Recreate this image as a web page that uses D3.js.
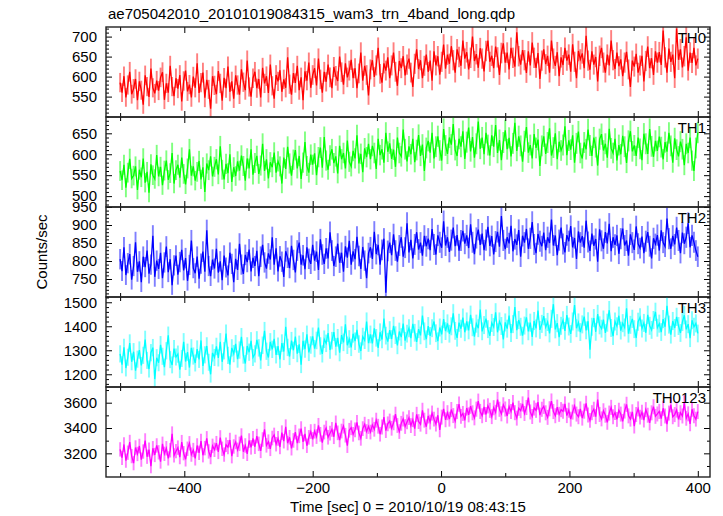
<!DOCTYPE html>
<html><head><meta charset="utf-8">
<script src="https://cdn.jsdelivr.net/npm/d3@7"></script>
<style>body{margin:0;background:#fff}svg{display:block}</style>
</head><body><svg id="c" width="723" height="516"></svg>
<script>
const title = "ae705042010_20101019084315_wam3_trn_4band_long.qdp";
const xLabel = "Time [sec] 0 = 2010/10/19 08:43:15";
const yLabel = "Counts/sec";
const binStart = -500, binWidth = 3;
const xDomain = [-522, 419];
const xMajorTicks = [-400, -200, 0, 200, 400];
const xMinorTicks = [-500, -300, -100, 100, 300];
const bands = ["TH0", "TH1", "TH2", "TH3", "TH0123"];
const colors = ["#ff0000", "#00ff00", "#0000ff", "#00ffff", "#ff00ff"];
const yDomains = [[499, 724], [474, 689], [700, 950], [1147, 1522], [3013, 3724]];
const yTicks = [[550, 600, 650, 700], [500, 550, 600, 650], [750, 800, 850, 900, 950], [1200, 1300, 1400, 1500], [3200, 3400, 3600]];
const yMinorStep = [10, 10, 10, 20, 100];

const th0 = [
585,560,601,548,579,612,556,570,594,541,
588,566,530,603,575,549,620,572,558,590,
565,598,611,542,583,560,627,575,551,596,
570,604,538,589,615,563,580,548,600,572,
633,559,585,610,547,592,568,520,601,578,
556,614,583,540,597,571,625,562,588,545,
603,579,555,618,586,566,640,574,550,596,
612,571,594,548,622,583,601,559,630,577,
545,604,588,616,562,593,572,648,581,555,
609,584,627,566,598,541,613,590,635,572,
604,621,578,645,593,560,612,587,630,598,
571,624,602,589,650,611,580,633,598,615,
642,596,621,571,608,660,590,627,604,553,
618,641,599,628,672,607,585,633,615,648,
596,628,660,612,577,639,621,651,603,630,
645,610,574,632,668,619,641,596,627,655,
612,640,590,663,628,651,605,637,680,620,
655,632,676,641,610,668,649,627,690,645,
661,618,647,700,639,656,622,671,645,613,
664,690,637,652,621,675,648,604,659,683,
635,660,618,672,647,625,711,651,630,666,
641,609,663,628,685,647,622,659,594,640,
668,631,652,610,690,645,627,661,601,648,
629,672,640,655,612,681,637,596,664,643,
658,621,702,640,617,663,630,649,588,652,
672,635,610,655,628,690,641,619,660,626,
643,601,635,662,618,574,640,625,657,610,
628,652,588,639,675,621,646,604,663,635,
661,629,715,648,610,670,637,655,596,720,
642,668,623,651,698,615,660,634,672,628,
645];

const th1 = [
560,538,575,520,556,589,542,549,571,515,
563,545,590,532,558,508,576,550,541,598,
547,570,526,561,585,539,555,603,530,562,
575,544,592,553,528,566,612,549,571,537,
558,584,540,569,510,578,562,595,547,570,
588,552,619,563,540,577,555,600,534,569,
548,583,561,597,572,537,590,566,612,551,
579,596,553,573,625,560,588,542,581,569,
604,556,583,571,530,592,565,618,578,549,
587,610,566,596,541,580,629,572,556,599,
575,602,550,593,616,568,641,585,563,597,
612,579,595,554,620,588,603,566,633,582,
571,608,590,645,578,601,557,614,593,625,
588,620,603,565,637,598,612,580,651,606,
626,589,611,570,640,603,595,659,612,583,
619,600,637,581,610,646,596,623,560,615,
632,604,651,590,618,643,609,585,660,621,
601,640,623,672,610,596,637,618,655,589,
629,664,607,641,592,625,678,613,640,600,
651,622,597,645,618,670,603,634,586,628,
657,612,639,595,626,675,608,643,620,582,
631,665,604,622,590,648,615,635,572,620,
643,601,628,662,597,616,650,588,630,609,
622,667,598,633,611,645,580,626,654,603,
590,628,612,659,621,596,640,617,573,636,
648,609,625,592,661,614,603,637,585,622,
600,644,618,579,632,655,607,621,596,640,
613,586,649,625,601,660,619,594,632,608,
642,617,588,629,606,651,620,580,638,611,
595,630,612,574,625,603,640,585,560,615,
652];

const th2 = [
805,772,838,761,794,819,748,786,852,770,
799,741,812,783,829,765,790,870,756,801,
778,823,752,796,840,769,805,733,788,815,
762,797,831,774,808,745,789,857,780,766,
812,751,793,826,770,885,786,758,804,779,
834,768,799,747,815,782,760,823,792,741,
806,775,848,790,764,817,797,832,771,809,
786,828,758,812,845,796,779,821,804,866,
790,835,771,813,798,756,827,809,780,842,
803,768,829,851,790,816,777,838,806,792,
845,801,826,775,860,818,792,835,807,880,
829,786,812,848,795,823,770,841,809,856,
790,827,805,867,814,778,839,801,752,822,
838,806,881,819,845,790,831,862,712,828,
851,816,874,829,798,843,866,812,837,905,
824,859,807,846,880,832,851,815,870,841,
862,830,889,846,818,871,852,837,910,843,
866,825,858,893,841,872,829,857,884,848,
871,836,902,852,819,864,887,845,876,830,
858,895,842,869,818,854,881,840,925,857,
833,866,849,898,827,861,845,886,812,870,
851,889,834,863,908,846,822,875,855,841,
879,830,866,850,915,843,871,816,858,893,
847,824,872,855,897,838,864,806,882,851,
869,837,912,853,828,876,842,861,798,888,
856,834,880,849,903,827,866,845,871,820,
862,890,843,857,815,874,851,831,896,848,
836,868,822,855,880,841,807,863,847,872,
829,885,851,840,918,862,834,870,846,893,
857,822,879,848,866,905,838,871,852,829,
812];

const th3 = [
1285,1240,1312,1226,1271,1330,1252,1294,1215,1263,
1301,1237,1279,1345,1258,1222,1290,1311,1180,1269,
1248,1323,1275,1230,1298,1362,1261,1239,1307,1272,
1284,1219,1266,1335,1253,1292,1228,1310,1276,1247,
1305,1262,1341,1235,1281,1318,1250,1200,1289,1270,
1316,1268,1335,1252,1298,1370,1279,1240,1310,1286,
1327,1263,1301,1356,1280,1245,1318,1292,1339,1270,
1285,1343,1310,1258,1321,1381,1296,1270,1335,1304,
1348,1281,1317,1262,1330,1295,1398,1312,1274,1340,
1300,1357,1286,1325,1240,1339,1305,1366,1291,1322,
1358,1307,1341,1395,1318,1285,1346,1329,1372,1301,
1340,1376,1315,1352,1290,1363,1333,1408,1321,1347,
1312,1369,1338,1385,1326,1297,1357,1342,1420,1330,
1366,1329,1391,1352,1310,1375,1345,1432,1361,1336,
1384,1347,1402,1363,1320,1378,1355,1411,1340,1369,
1392,1351,1410,1373,1335,1388,1362,1445,1379,1346,
1401,1360,1392,1420,1371,1338,1395,1366,1430,1380,
1412,1369,1400,1454,1381,1352,1415,1390,1436,1375,
1420,1383,1448,1396,1357,1411,1392,1470,1379,1405,
1432,1388,1360,1414,1397,1458,1375,1420,1401,1345,
1416,1390,1445,1372,1409,1480,1384,1426,1398,1361,
1403,1437,1379,1415,1356,1422,1391,1465,1385,1410,
1442,1396,1418,1370,1431,1492,1387,1413,1355,1402,
1425,1381,1447,1399,1368,1420,1488,1392,1416,1376,
1408,1440,1383,1421,1302,1398,1434,1377,1451,1404,
1390,1428,1372,1415,1467,1393,1359,1420,1400,1444,
1382,1413,1395,1475,1369,1406,1431,1388,1351,1419,
1437,1391,1414,1373,1448,1402,1385,1426,1460,1394,
1411,1376,1430,1398,1485,1407,1365,1422,1393,1439,
1401,1372,1418,1446,1387,1409,1350,1425,1398,1412,
1370];

const th0123 = [
3231,3165,3270,3142,3205,3289,3178,3122,3246,3195,
3258,3150,3214,3301,3173,3229,3098,3240,3187,3262,
3208,3135,3275,3196,3240,3160,3224,3355,3183,3217,
3245,3170,3288,3201,3152,3236,3279,3190,3226,3160,
3262,3204,3297,3185,3241,3318,3215,3170,3259,3228,
3280,3211,3325,3236,3190,3268,3249,3305,3177,3254,
3290,3228,3275,3340,3213,3262,3196,3301,3247,3318,
3252,3336,3275,3219,3309,3390,3263,3292,3235,3321,
3345,3272,3318,3250,3363,3296,3410,3281,3327,3240,
3302,3367,3281,3338,3395,3290,3353,3260,3326,3372,
3310,3375,3332,3421,3350,3284,3368,3400,3327,3359,
3389,3331,3440,3362,3305,3376,3415,3343,3260,3382,
3402,3350,3386,3445,3361,3318,3395,3430,3372,3412,
3368,3425,3390,3462,3414,3351,3408,3486,3379,3433,
3455,3398,3441,3509,3420,3372,3437,3471,3412,3448,
3482,3419,3466,3395,3508,3451,3430,3540,3462,3410,
3495,3447,3518,3470,3431,3501,3385,3486,3552,3465,
3521,3470,3546,3498,3455,3530,3589,3492,3515,3461,
3558,3504,3572,3520,3480,3549,3612,3531,3497,3566,
3507,3575,3540,3490,3560,3524,3625,3548,3512,3583,
3550,3495,3569,3530,3601,3521,3478,3556,3537,3590,
3515,3562,3640,3527,3491,3558,3540,3605,3502,3548,
3571,3520,3484,3552,3613,3530,3497,3565,3508,3545,
3532,3590,3498,3541,3470,3526,3575,3510,3489,3551,
3478,3533,3595,3502,3460,3521,3548,3490,3625,3507,
3472,3536,3501,3445,3518,3563,3489,3522,3468,3540,
3510,3452,3534,3587,3496,3470,3528,3415,3507,3551,
3486,3525,3463,3545,3501,3440,3520,3568,3492,3511,
3531,3474,3556,3495,3430,3518,3583,3489,3506,3542,
3468,3521,3495,3600,3477,3512,3433,3548,3497,3470,
3530];

const series = [th0, th1, th2, th3, th0123];

// ---- layout ----
const L = 106, R = 710, T0 = 27, PH = 90;
const FONT = "'Liberation Sans', Arial, Helvetica, sans-serif";
const svg = d3.select("#c");
const x = d3.scaleLinear().domain(xDomain).range([L, R]);
const defs = svg.append("defs");
const fmt = d => String(d).replace("-", "\u2212");

series.forEach((vals, k) => {
  const top = T0 + k * PH, bot = top + PH;
  const y = d3.scaleLinear().domain(yDomains[k]).range([bot, top]);
  const g = svg.append("g");
  const cid = "clip" + k;
  defs.append("clipPath").attr("id", cid).append("rect")
    .attr("x", L).attr("y", top).attr("width", R - L).attr("height", PH);
  const pts = vals.map((v, i) => ({ t: binStart + i * binWidth, v, e: Math.sqrt(v) }));
  const dg = g.append("g").attr("clip-path", `url(#${cid})`);
  dg.append("g").selectAll("line").data(pts).join("line")
    .attr("x1", d => x(d.t)).attr("x2", d => x(d.t))
    .attr("y1", d => y(d.v - d.e)).attr("y2", d => y(d.v + d.e))
    .attr("stroke", colors[k]).attr("stroke-opacity", 0.5).attr("stroke-width", 1.9);
  dg.append("path").datum(pts)
    .attr("d", d3.line().x(d => x(d.t)).y(d => y(d.v)))
    .attr("fill", "none").attr("stroke", colors[k]).attr("stroke-width", 1.3);

  const [y0, y1] = yDomains[k];
  const st = yMinorStep[k];
  const minorY = d3.range(Math.ceil(y0 / st) * st, y1 + 0.001, st).filter(v => !yTicks[k].includes(v));

  const styleAxis = a => { a.select(".domain").remove(); a.selectAll("line").attr("stroke", "#000"); };
  const styleText = a => a.selectAll("text").attr("font-size", 15).attr("font-family", FONT).attr("fill", "#000");

  g.append("g").attr("transform", `translate(${L},0)`)
    .call(d3.axisLeft(y).tickValues(yTicks[k]).tickSize(-6).tickPadding(9).tickFormat(fmt))
    .call(styleAxis).call(styleText);
  g.append("g").attr("transform", `translate(${L},0)`)
    .call(d3.axisLeft(y).tickValues(minorY).tickSize(-3).tickFormat(""))
    .call(styleAxis);
  g.append("g").attr("transform", `translate(${R},0)`)
    .call(d3.axisRight(y).tickValues(yTicks[k]).tickSize(-6).tickFormat(""))
    .call(styleAxis);
  g.append("g").attr("transform", `translate(${R},0)`)
    .call(d3.axisRight(y).tickValues(minorY).tickSize(-3).tickFormat(""))
    .call(styleAxis);
  g.append("g").attr("transform", `translate(0,${top})`)
    .call(d3.axisTop(x).tickValues(xMajorTicks).tickSize(-6).tickFormat(""))
    .call(styleAxis);
  g.append("g").attr("transform", `translate(0,${top})`)
    .call(d3.axisTop(x).tickValues(xMinorTicks).tickSize(-4).tickFormat(""))
    .call(styleAxis);
  const isLast = k === series.length - 1;
  g.append("g").attr("transform", `translate(0,${bot})`)
    .call(d3.axisBottom(x).tickValues(xMajorTicks).tickSize(-6).tickPadding(5)
      .tickFormat(isLast ? fmt : ""))
    .call(styleAxis).call(styleText);
  g.append("g").attr("transform", `translate(0,${bot})`)
    .call(d3.axisBottom(x).tickValues(xMinorTicks).tickSize(-4).tickFormat(""))
    .call(styleAxis);

  g.append("rect").attr("x", L).attr("y", top).attr("width", R - L).attr("height", PH)
    .attr("fill", "none").attr("stroke", "#222").attr("stroke-width", 1.4);

  g.append("text").attr("x", 706).attr("y", top + 16)
    .attr("text-anchor", "end").attr("font-size", 15).attr("font-family", FONT).attr("fill", "#000")
    .text(bands[k]);
});

svg.append("text").attr("x", 108).attr("y", 19)
  .attr("font-size", 15).attr("font-family", FONT).attr("fill", "#000").text(title);
svg.append("text").attr("x", (L + R) / 2).attr("y", 512)
  .attr("text-anchor", "middle").attr("font-size", 15).attr("font-family", FONT).attr("fill", "#000").text(xLabel);
svg.append("text").attr("transform", `translate(47,${T0 + PH * 2.5}) rotate(-90)`)
  .attr("text-anchor", "middle").attr("font-size", 15).attr("font-family", FONT).attr("fill", "#000").text(yLabel);
</script></body></html>
